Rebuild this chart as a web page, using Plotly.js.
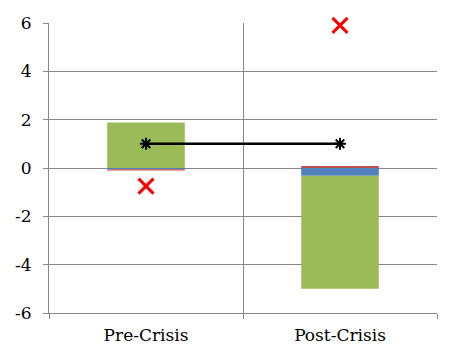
<!DOCTYPE html>
<html><head><meta charset="utf-8">
<script src="https://cdn.plot.ly/plotly-3.0.1.min.js"></script>
<style>html,body{margin:0;padding:0;background:#fff}</style>
</head><body>
<div id="chart" style="width:460px;height:362px"></div>
<script>
var categories = ['Pre-Crisis', 'Post-Crisis'];
var greenValues = [1.88, -4.68];
var blueValues = [-0.05, -0.32];
var redValues = [-0.05, 0.08];
var crossValues = [-0.75, 5.9];
var lineValues = [1.0, 1.0];
var yTicks = [-6, -4, -2, 0, 2, 4, 6];

var gray = '#868686';
var serif = 'DejaVu Serif';
var data = [
  {type:'bar', x:categories, y:blueValues, marker:{color:'#4F81BD'}, width:0.4, hoverinfo:'none'},
  {type:'bar', x:categories, y:greenValues, marker:{color:'#9BBB59'}, width:0.4, hoverinfo:'none'},
  {type:'bar', x:categories, y:redValues, marker:{color:'#C0504D'}, width:0.4, hoverinfo:'none'},
  {type:'scatter', mode:'markers', x:categories, y:crossValues, cliponaxis:false,
   marker:{symbol:'x-thin-open', size:15, color:'#FF0000', line:{color:'#FF0000', width:3}}},
  {type:'scatter', mode:'lines+markers', x:categories, y:lineValues, cliponaxis:false,
   line:{color:'#000000', width:2.5},
   marker:{symbol:'asterisk-open', size:10, color:'#000000', line:{color:'#000000', width:2}}}
];
var layout = {
  width:460, height:362,
  margin:{l:49, r:23, t:23, b:49},
  barmode:'relative',
  showlegend:false,
  plot_bgcolor:'#fff', paper_bgcolor:'#fff',
  font:{family:serif, size:17, color:'#000'},
  xaxis:{type:'category', tickson:'boundaries', showgrid:true, gridcolor:gray, gridwidth:1,
         showline:true, linecolor:gray, linewidth:1, ticks:'outside', ticklen:5, tickcolor:gray,
         range:[-0.5, 1.5], tickfont:{family:serif, size:17, color:'#000'}, ticklabelstandoff:7},
  yaxis:{range:[-6, 6], tickvals:yTicks, ticktext:yTicks.map(String), showgrid:true, gridcolor:gray,
         zeroline:false, showline:true, linecolor:gray, linewidth:1, ticks:'outside', ticklen:5,
         tickcolor:gray, tickfont:{family:serif, size:17, color:'#000'}, ticklabelstandoff:8}
};
Plotly.newPlot('chart', data, layout, {displayModeBar:false, staticPlot:true});
</script>
</body></html>
